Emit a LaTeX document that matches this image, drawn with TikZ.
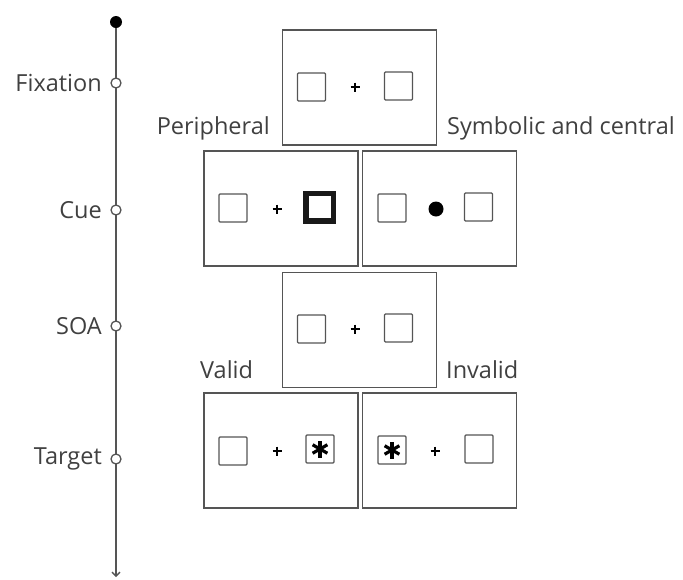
\documentclass[tikz,border=0pt]{standalone}
\usepackage{fontspec}
\setmainfont{Open Sans}
\usetikzlibrary{arrows.meta,calc}
\definecolor{txt}{HTML}{404040}
\definecolor{ln}{HTML}{555555}
\tikzset{
  screen/.style={draw=ln, line width=1.4pt, minimum width=154pt, minimum height=115pt, inner sep=0pt},
  sq/.style={draw=ln, line width=1.3pt, minimum size=28pt, inner sep=0pt, rounded corners=1pt},
  thicksq/.style={draw=black!90, line width=5.5pt, minimum size=27.5pt, inner sep=0pt},
  lbl/.style={text=txt, font=\fontsize{23.5}{27}\selectfont, inner sep=0pt},
  tick/.style={circle, draw=ln, fill=white, line width=1.3pt, minimum size=10pt, inner sep=0pt},
}
\newcommand{\plussign}[1]{\draw[black, line width=1.6pt] ($(#1)+(-4.5,0)$) -- ($(#1)+(4.5,0)$) ($(#1)+(0,-4.5)$) -- ($(#1)+(0,4.5)$);}
\newcommand{\starsign}[1]{\foreach \a in {90,30,150}{\draw[black, line width=3.2pt] ($(#1)+(\a:8.5)$) -- ($(#1)+(\a+180:8.5)$);}}
\begin{document}
\begin{tikzpicture}[x=1pt,y=-1pt]
\useasboundingbox (0,0) rectangle (683,579);
% timeline
\node[circle, fill=black, minimum size=12pt, inner sep=0pt] (top) at (116,22) {};
\coordinate (end) at (116,577);
\draw[ln, line width=1.4pt, -{Straight Barb[length=4pt,width=8pt]}] (top) -- (end);
\node[tick] (tfix) at (116,83) {};
\node[tick] (tcue) at (116,210) {};
\node[tick] (tsoa) at (116,326) {};
\node[tick] (ttar) at (116,459) {};
\node[lbl, anchor=east] (lfix) at (102,83) {Fixation};
\node[lbl, anchor=east] (lcue) at (102,210) {Cue};
\node[lbl, anchor=east] (lsoa) at (102,326) {SOA};
\node[lbl, anchor=east] (ltar) at (102,459) {Target};
% screens
\node[screen] (fix) at (359.5,87.5) {};
\node[screen] (cueL) at (281,208.5) {};
\node[screen] (cueR) at (439.5,208.5) {};
\node[screen] (soa) at (359.5,330) {};
\node[screen] (tarL) at (281,450.5) {};
\node[screen] (tarR) at (439.5,450.5) {};
% condition labels
\node[lbl, anchor=base east] (lper) at (270,134) {Peripheral};
\node[lbl, anchor=base west] (lsym) at (447,134) {Symbolic and central};
\node[lbl, anchor=base west] (lval) at (200,378) {Valid};
\node[lbl, anchor=base west] (linv) at (446,378) {Invalid};
% fixation contents
\node[sq] (f1) at (311.5,87) {};
\node[sq] (f2) at (398.5,86) {};
\coordinate (fp) at (355,87); \plussign{fp}
% cue peripheral
\node[sq] (c1) at (233,208) {};
\node[thicksq] (c2) at (319.5,207) {};
\coordinate (cp) at (277,209); \plussign{cp}
% cue symbolic
\node[sq] (c3) at (392,208) {};
\node[sq] (c4) at (478.5,207) {};
\node[circle, fill=black, minimum size=15pt, inner sep=0pt] (cdot) at (436,209) {};
% soa
\node[sq] (s1) at (311.5,329) {};
\node[sq] (s2) at (398.5,328) {};
\coordinate (sp) at (355,329); \plussign{sp}
% target valid
\node[sq] (t1) at (233,451) {};
\node[sq] (t2) at (320,449) {};
\coordinate (tp) at (277,451); \plussign{tp}
\starsign{t2}
% target invalid
\node[sq] (t3) at (392,450) {};
\node[sq] (t4) at (479,449) {};
\coordinate (tp2) at (435,451); \plussign{tp2}
\starsign{t3}
\end{tikzpicture}
\end{document}
